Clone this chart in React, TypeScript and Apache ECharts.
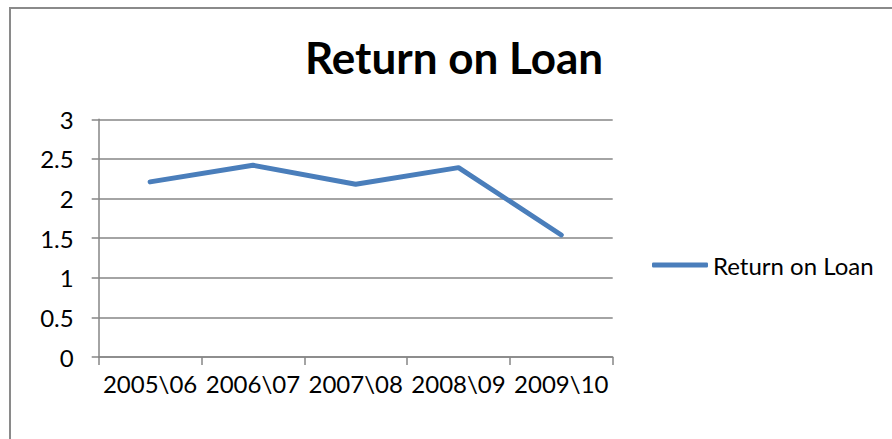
import React, { useEffect, useRef } from "react";
import * as echarts from "echarts";

const categories = ["2005\\06", "2006\\07", "2007\\08", "2008\\09", "2009\\10"];
const returnOnLoan = [2.21, 2.42, 2.18, 2.39, 1.54];
const seriesName = "Return on Loan";
const titleText = "Return on Loan";

const FONT = "Lato, 'Open Sans', sans-serif";
const GRAY = "#868686";
const BLUE = "#4a7ebb";

export default function App() {
  const ref = useRef<HTMLDivElement>(null);
  useEffect(() => {
    if (!ref.current) return;
    const chart = echarts.init(ref.current, undefined, { renderer: "svg" });
    chart.setOption({
      animation: false,
      backgroundColor: "#ffffff",
      title: {
        text: titleText,
        left: 449,
        textAlign: "center",
        top: 30,
        textStyle: { fontFamily: FONT, fontSize: 44, fontWeight: "bold", color: "#000" },
      },
      legend: {
        data: [{ name: seriesName, icon: "roundRect" }],
        left: 652,
        top: 253,
        padding: 0,
        itemWidth: 56,
        itemHeight: 5,
        itemStyle: { color: BLUE },
        textStyle: { fontFamily: FONT, fontSize: 24, color: "#000" },
      },
      grid: { left: 98.7, right: 279.3, top: 119.3, bottom: 82, containLabel: false },
      xAxis: {
        type: "category",
        data: categories,
        boundaryGap: true,
        axisLine: { show: true, lineStyle: { color: GRAY, width: 1.5 } },
        axisTick: { show: true, length: 8, lineStyle: { color: GRAY, width: 1.5 } },
        axisLabel: { margin: 14, fontFamily: FONT, fontSize: 24, color: "#000", interval: 0 },
        splitLine: { show: false },
      },
      yAxis: {
        type: "value",
        min: 0,
        max: 3,
        interval: 0.5,
        axisLine: { show: true, lineStyle: { color: GRAY, width: 1.5 } },
        axisTick: { show: true, length: 7, lineStyle: { color: GRAY, width: 1.5 } },
        axisLabel: { margin: 25, fontFamily: FONT, fontSize: 24, color: "#000" },
        splitLine: { show: true, lineStyle: { color: GRAY, width: 1.5 } },
      },
      series: [
        {
          name: seriesName,
          type: "line",
          data: returnOnLoan,
          symbol: "none",
          lineStyle: { color: BLUE, width: 5, cap: "round", join: "round" },
          itemStyle: { color: BLUE },
        },
      ],
      graphic: [
        { type: "line", shape: { x1: 9, y1: 8, x2: 892, y2: 8 }, style: { stroke: "#8a8a8a", lineWidth: 2 } },
        { type: "line", shape: { x1: 10, y1: 7, x2: 10, y2: 439 }, style: { stroke: "#8a8a8a", lineWidth: 2 } },
      ],
    });
    return () => chart.dispose();
  }, []);
  return (
    <div
      ref={ref}
      style={{ position: "absolute", left: 0, top: 0, width: 892, height: 439, background: "#fff" }}
    />
  );
}
